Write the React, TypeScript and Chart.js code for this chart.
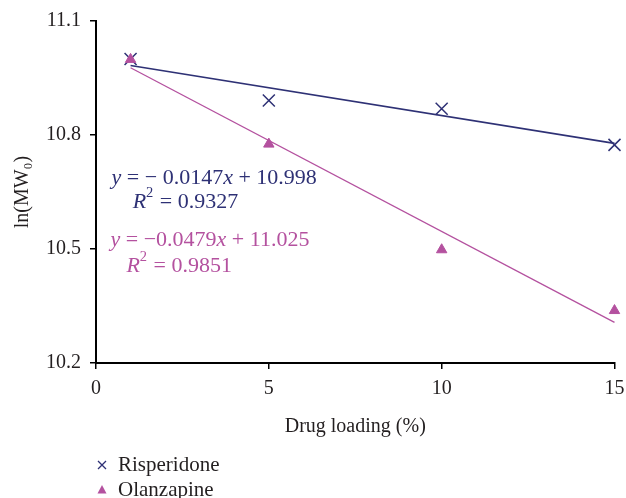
import React, { useEffect, useRef } from "react";
import { Chart, registerables } from "chart.js";

Chart.register(...registerables);

// ---- data ----
const drugLoading = [1, 5, 10, 15];
const risperidone = [11.0, 10.891, 10.869, 10.774];
const olanzapine = [10.999, 10.776, 10.498, 10.338];
const trendX = [1, 15];
const risperidoneTrend = [10.983, 10.778];
const olanzapineTrend = [10.977, 10.307];
const xTickValues = [0, 5, 10, 15];
const yTickValues = [10.2, 10.5, 10.8, 11.1];
const seriesNames = ["Risperidone", "Olanzapine"];
const xTitle = "Drug loading (%)";
const yTitle = "ln(MW\u2080)";

type Seg = { t: string; i?: boolean; sup?: boolean };
const risperidoneEq: Seg[][] = [
  [{ t: "y", i: true }, { t: " = \u2212 0.0147" }, { t: "x", i: true }, { t: " + 10.998" }],
  [{ t: "R", i: true }, { t: "2", sup: true }, { t: " = 0.9327" }],
];
const olanzapineEq: Seg[][] = [
  [{ t: "y", i: true }, { t: " = \u22120.0479" }, { t: "x", i: true }, { t: " + 11.025" }],
  [{ t: "R", i: true }, { t: "2", sup: true }, { t: " = 0.9851" }],
];
// anchors of equation lines in data units: [x, y]
const risperidoneEqPos = [[0.45, 10.686], [1.06, 10.623]];
const olanzapineEqPos = [[0.42, 10.523], [0.88, 10.455]];

const NAVY = "#2e3175";
const PINK = "#b4519f";
const FONT = "'Liberation Serif', 'Times New Roman', serif";

function drawRich(ctx: CanvasRenderingContext2D, segs: Seg[], x: number, y: number, size: number, color: string) {
  let cx = x;
  ctx.fillStyle = color;
  ctx.textBaseline = "middle";
  ctx.textAlign = "left";
  for (const s of segs) {
    const fs = s.sup ? size * 0.66 : size;
    ctx.font = `${s.i ? "italic " : ""}${fs}px ${FONT}`;
    const dy = s.sup ? -size * 0.4 : 0;
    ctx.fillText(s.t, cx, y + dy);
    cx += ctx.measureText(s.t).width + (s.sup ? 1 : 0);
  }
}

const annotationPlugin = {
  id: "equations",
  afterDatasetsDraw(chart: any) {
    const { ctx, scales } = chart;
    const xs = scales.x;
    const ys = scales.y;
    ctx.save();
    risperidoneEq.forEach((line, k) => {
      drawRich(ctx, line, xs.getPixelForValue(risperidoneEqPos[k][0]), ys.getPixelForValue(risperidoneEqPos[k][1]), 22, NAVY);
    });
    olanzapineEq.forEach((line, k) => {
      drawRich(ctx, line, xs.getPixelForValue(olanzapineEqPos[k][0]), ys.getPixelForValue(olanzapineEqPos[k][1]), 22, PINK);
    });
    ctx.restore();
  },
};

const legendPlugin = {
  id: "stackedLegend",
  afterDraw(chart: any) {
    const { ctx, chartArea } = chart;
    const mx = chartArea.left + 6;
    const tx = chartArea.left + 22;
    const rows = [465, 490];
    ctx.save();
    // cross marker
    ctx.strokeStyle = NAVY;
    ctx.lineWidth = 1.3;
    ctx.beginPath();
    const r = 4;
    ctx.moveTo(mx - r, rows[0] - r);
    ctx.lineTo(mx + r, rows[0] + r);
    ctx.moveTo(mx + r, rows[0] - r);
    ctx.lineTo(mx - r, rows[0] + r);
    ctx.stroke();
    // triangle marker
    ctx.fillStyle = PINK;
    ctx.beginPath();
    ctx.moveTo(mx, rows[1] - 5);
    ctx.lineTo(mx + 4.5, rows[1] + 3.5);
    ctx.lineTo(mx - 4.5, rows[1] + 3.5);
    ctx.closePath();
    ctx.fill();
    ctx.fillStyle = "#231f20";
    ctx.font = `21px ${FONT}`;
    ctx.textBaseline = "middle";
    ctx.textAlign = "left";
    seriesNames.forEach((name, i) => ctx.fillText(name, tx, rows[i]));
    ctx.restore();
  },
};

export default function App() {
  const ref = useRef<HTMLCanvasElement | null>(null);

  useEffect(() => {
    document.body.style.margin = "0";
    const canvas = ref.current;
    if (!canvas) return;
    const chart = new Chart(canvas, {
      type: "scatter",
      data: {
        datasets: [
          {
            label: seriesNames[0],
            data: drugLoading.map((x, i) => ({ x, y: risperidone[i] })),
            pointStyle: "crossRot",
            pointRadius: 8.5,
            borderColor: NAVY,
            backgroundColor: NAVY,
            borderWidth: 1.5,
            order: 2,
            clip: false,
          },
          {
            label: seriesNames[1],
            data: drugLoading.map((x, i) => ({ x, y: olanzapine[i] })),
            pointStyle: "triangle",
            pointRadius: 6,
            borderColor: PINK,
            backgroundColor: PINK,
            borderWidth: 1,
            order: 1,
            clip: false,
          },
          {
            label: "Risperidone trend",
            data: trendX.map((x, i) => ({ x, y: risperidoneTrend[i] })),
            showLine: true,
            pointRadius: 0,
            borderColor: NAVY,
            borderWidth: 1.6,
            order: 3,
            clip: false,
          },
          {
            label: "Olanzapine trend",
            data: trendX.map((x, i) => ({ x, y: olanzapineTrend[i] })),
            showLine: true,
            pointRadius: 0,
            borderColor: PINK,
            borderWidth: 1.3,
            order: 3,
            clip: false,
          },
        ] as any,
      },
      options: {
        responsive: false,
        devicePixelRatio: 1,
        animation: false,
        layout: { padding: { top: 21, right: 11.5, bottom: 55, left: 0 } },
        plugins: {
          legend: { display: false },
          tooltip: { enabled: false },
        },
        scales: {
          x: {
            type: "linear",
            min: 0,
            max: 15,
            afterFit: (s: any) => {
              s.height = 80;
              s.paddingLeft = 0;
              s.paddingRight = 0;
            },
            afterBuildTicks: (s: any) => {
              s.ticks = xTickValues.map((v) => ({ value: v }));
            },
            ticks: {
              color: "#231f20",
              font: { family: FONT, size: 20 },
              padding: 8,
              callback: (v: any) => String(v),
              maxRotation: 0,
            },
            grid: { drawOnChartArea: false, drawTicks: true, tickLength: 6, color: "#000", lineWidth: 1.5 },
            border: { display: true, color: "#000", width: 2 },
            title: {
              display: true,
              text: xTitle,
              color: "#231f20",
              font: { family: FONT, size: 20 },
              padding: { top: 0, bottom: 4 },
            },
          },
          y: {
            type: "linear",
            min: 10.2,
            max: 11.1,
            afterFit: (s: any) => {
              s.width = 96;
              s.paddingTop = 0;
              s.paddingBottom = 0;
            },
            afterBuildTicks: (s: any) => {
              s.ticks = yTickValues.map((v) => ({ value: v }));
            },
            ticks: {
              color: "#231f20",
              font: { family: FONT, size: 20 },
              padding: 9,
              callback: (v: any) => Number(v).toFixed(1),
            },
            grid: { drawOnChartArea: false, drawTicks: true, tickLength: 6, color: "#000", lineWidth: 1.5 },
            border: { display: true, color: "#000", width: 2 },
            title: {
              display: true,
              text: yTitle,
              color: "#231f20",
              font: { family: FONT, size: 20 },
              padding: { top: 11, bottom: 0 },
            },
          },
        },
      },
      plugins: [annotationPlugin, legendPlugin],
    });
    return () => chart.destroy();
  }, []);

  return (
    <canvas ref={ref} width={626} height={498} style={{ display: "block", width: 626, height: 498 }} />
  );
}
